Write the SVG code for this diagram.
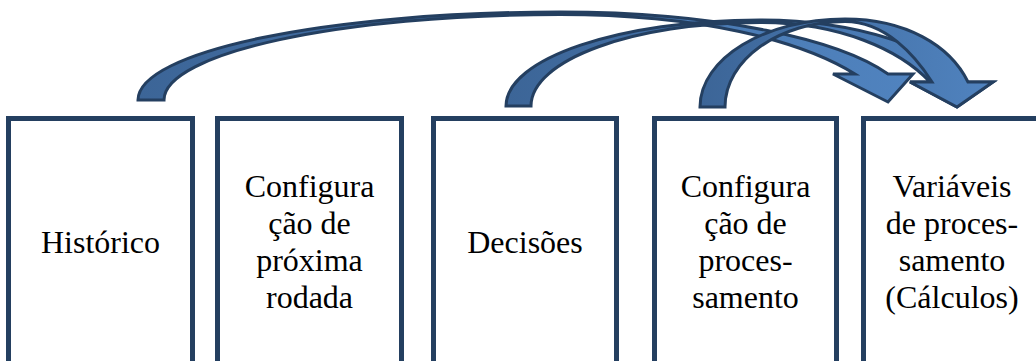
<svg xmlns="http://www.w3.org/2000/svg" width="1036" height="361" viewBox="0 0 1036 361">
  <defs>
    <linearGradient id="arrowFill" x1="0" y1="0" x2="1" y2="0">
      <stop offset="0" stop-color="#3C6597"/>
      <stop offset="1" stop-color="#5083BF"/>
    </linearGradient>
    <style>
      .box { fill: #FFFFFF; stroke: #243F60; stroke-width: 5; }
      .label { font-family: "Liberation Serif", "Times New Roman", serif; font-size: 32px; fill: #000000; text-anchor: middle; }
      .arrow { fill: url(#arrowFill); stroke: #243F60; stroke-width: 3; stroke-linejoin: miter; }
    </style>
  </defs>

  <rect width="1036" height="361" fill="#FFFFFF"/>

  <!-- process columns -->
  <g id="historico">
    <rect class="box" x="8.5" y="118.5" width="184" height="260"/>
    <text class="label" x="100.5" y="253">Histórico</text>
  </g>
  <g id="config-proxima-rodada">
    <rect class="box" x="217.5" y="118.5" width="184" height="260"/>
    <text class="label" x="309.5" y="196.5">Configura</text>
    <text class="label" x="309.5" y="233.5">ção de</text>
    <text class="label" x="309.5" y="270.5">próxima</text>
    <text class="label" x="309.5" y="307.5">rodada</text>
  </g>
  <g id="decisoes">
    <rect class="box" x="433.5" y="118.5" width="183" height="260"/>
    <text class="label" x="525" y="253">Decisões</text>
  </g>
  <g id="config-processamento">
    <rect class="box" x="654.5" y="118.5" width="182" height="260"/>
    <text class="label" x="745.5" y="196.5">Configura</text>
    <text class="label" x="745.5" y="233.5">ção de</text>
    <text class="label" x="745.5" y="270.5">proces-</text>
    <text class="label" x="745.5" y="307.5">samento</text>
  </g>
  <g id="variaveis-processamento">
    <rect class="box" x="863.5" y="118.5" width="177" height="260"/>
    <text class="label" x="952" y="196.5">Variáveis</text>
    <text class="label" x="952" y="233.5">de proces-</text>
    <text class="label" x="952" y="270.5">samento</text>
    <text class="label" x="952" y="307.5">(Cálculos)</text>
  </g>

  <!-- curved feedback arrows -->
  <g id="connectors">
    <!-- Histórico to the results column -->
    <path class="arrow" d="M138,100 C138,51.4 327,12 560,12 C720,12 840,40 888,74 L913,74 L888,102 L833,74 L855,74 C800,40 700,14.5 560,14.5 C341,14.5 164,53 164,100 Z"/>
    <!-- Decisões to the results column -->
    <path class="arrow" d="M506,106 C506,58.5 620,20 760,20 C860,20 940,50 966,82 L993,82 L957,107 L910,82 L930,82 C900,50 840,22.5 760,22.5 C633,22.5 531,60 531,106 Z"/>
    <!-- processing setup to the results column -->
    <path class="arrow" d="M700,107 C700,58.4 765,19 845,19 C905,19 950,45 968,82 L993,82 L957,107 L910,82 L932,82 C915,55 885,21.5 845,21.5 C779,21.5 725,59.8 725,107 Z"/>
  </g>
</svg>
